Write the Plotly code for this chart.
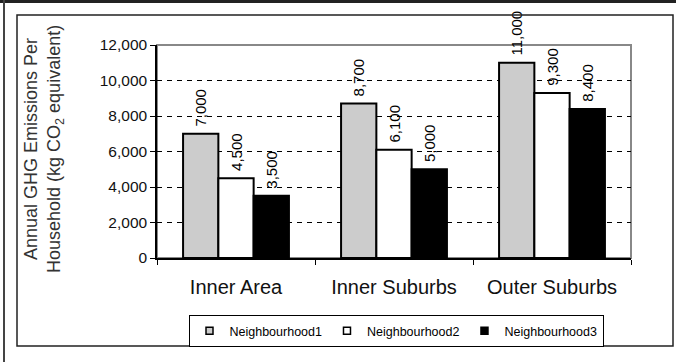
import plotly.graph_objects as go

# data
categories = ["Inner Area", "Inner Suburbs", "Outer Suburbs"]
series_names = ["Neighbourhood1", "Neighbourhood2", "Neighbourhood3"]
neighbourhood1 = [7000, 8700, 11000]
neighbourhood2 = [4500, 6100, 9300]
neighbourhood3 = [3500, 5000, 8400]
y_ticks = [0, 2000, 4000, 6000, 8000, 10000, 12000]

series_values = [neighbourhood1, neighbourhood2, neighbourhood3]
fills = ["#cccccc", "#ffffff", "#000000"]

FONT = "Arial, Liberation Sans, sans-serif"

W, H = 676, 362
ML, MR, MT, MB = 157, 45, 45, 104
PW, PH = W - ML - MR, H - MT - MB


def px(x):
    return (x - ML) / PW


def py(y):
    return (H - MB - y) / PH


fig = go.Figure()

for name, vals, col in zip(series_names, series_values, fills):
    fig.add_trace(go.Bar(
        x=categories, y=vals, name=name,
        marker=dict(color=col, line=dict(color="#000000", width=2)),
        texttemplate="&nbsp;%{y:,.0f}",
        textposition="outside",
        textangle=-90,
        textfont=dict(family=FONT, size=15, color="#000000"),
        constraintext="none",
        cliponaxis=False,
        showlegend=False,
    ))
    # small square legend symbols
    fig.add_trace(go.Scatter(
        x=[None], y=[None], mode="markers", name=name,
        marker=dict(symbol="square", size=7, color=col,
                    line=dict(color="#000000", width=1.5)),
    ))

shapes = [
    # plot area border (grey top/right)
    dict(type="rect", xref="paper", yref="paper", x0=0, x1=1, y0=0, y1=1,
         line=dict(color="#888888", width=2), layer="between"),
    # chart frame
    dict(type="rect", xref="paper", yref="paper",
         x0=px(17), x1=px(673), y0=py(346), y1=py(15),
         line=dict(color="#222222", width=1.5)),
    # dark band at top
    dict(type="rect", xref="paper", yref="paper",
         x0=px(0), x1=px(W), y0=py(3), y1=py(0),
         fillcolor="#222222", line=dict(width=0)),
    # left outer line
    dict(type="line", xref="paper", yref="paper",
         x0=px(4), x1=px(4), y0=py(H), y1=py(0),
         line=dict(color="#444444", width=2)),
]

fig.add_annotation(
    text="Annual GHG Emissions Per<br>Household (kg CO<sub>2</sub> equivalent)",
    xref="paper", yref="paper", x=px(44), y=py(149),
    xanchor="center", yanchor="middle",
    textangle=-90, showarrow=False, align="center",
    font=dict(family=FONT, size=18, color="#333333"),
)

fig.update_layout(
    width=W, height=H,
    margin=dict(l=ML, r=MR, t=MT, b=MB),
    paper_bgcolor="#ffffff", plot_bgcolor="#ffffff",
    font=dict(family=FONT, color="#000000"),
    barmode="group", bargap=0.33, bargroupgap=0,
    shapes=shapes,
    xaxis=dict(
        showline=True, linecolor="#000000", linewidth=1.5,
        ticks="outside", ticklen=5, tickcolor="#000000",
        tickson="boundaries", showgrid=False,
        tickfont=dict(family=FONT, size=20, color="#111111"),
        ticklabelstandoff=10,
    ),
    yaxis=dict(
        range=[0, 12000], tickvals=y_ticks, tickformat=",",
        showline=True, linecolor="#000000", linewidth=1.5,
        ticks="outside", ticklen=5, tickcolor="#000000",
        showgrid=True, gridcolor="#000000", gridwidth=1, griddash="5px,5px",
        zeroline=False,
        tickfont=dict(family=FONT, size=15.5, color="#111111"),
    ),
    legend=dict(
        orientation="h", xanchor="center", yanchor="top",
        x=px(396), y=py(315),
        bordercolor="#000000", borderwidth=1, bgcolor="#ffffff",
        font=dict(family=FONT, size=12.5, color="#000000"),
        itemwidth=30, tracegroupgap=0,
    ),
)

# the page's default body margin would shift the chart by 8px
fig.write_html("out.html", config={"displayModeBar": False},
               post_script="document.body.style.margin='0';")
